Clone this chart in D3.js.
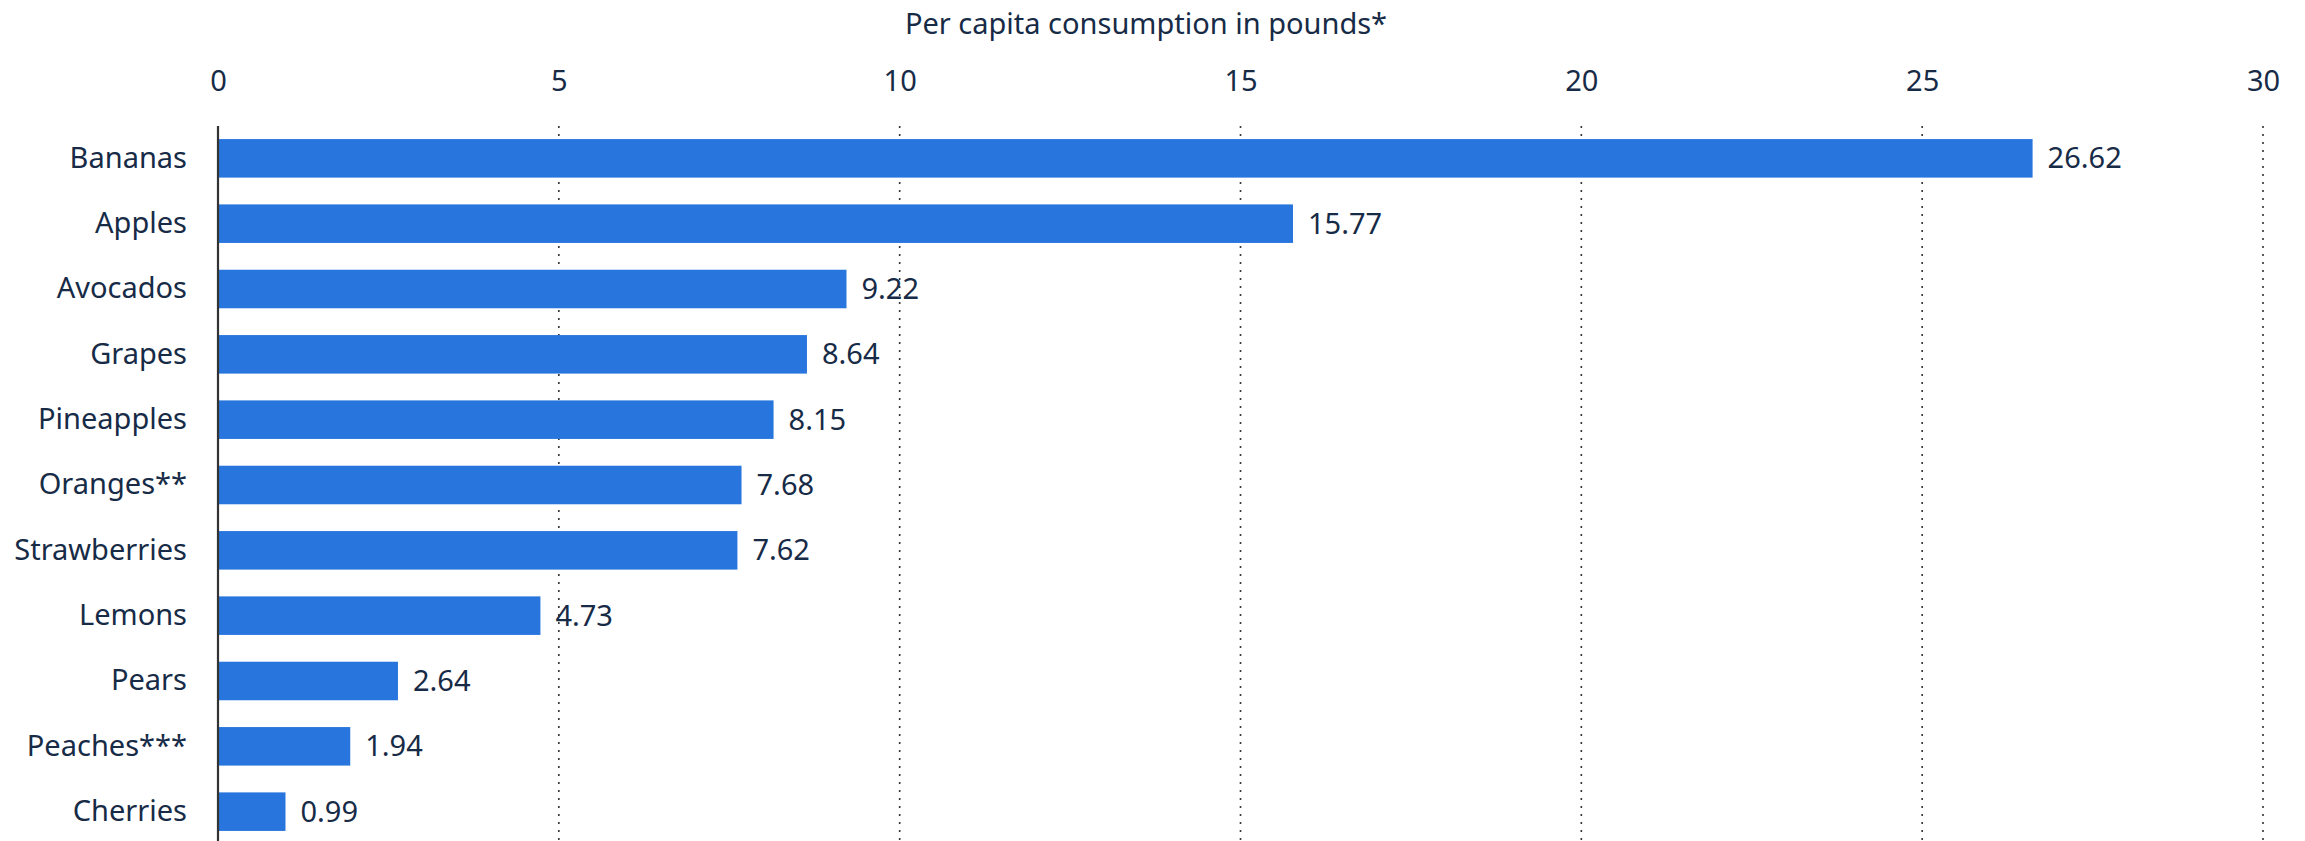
<!DOCTYPE html>
<html>
<head>
<meta charset="utf-8">
<script src="https://cdn.jsdelivr.net/npm/d3@7"></script>
<style>
  html, body { margin: 0; padding: 0; background: #fff; }
  svg { display: block; }
  text { font-family: "Noto Sans", "Open Sans", sans-serif; fill: #172b47; }
</style>
</head>
<body>
<svg id="chart" width="2305" height="841"></svg>
<script>
// Per capita fruit consumption (pounds)
const fruits = ["Bananas", "Apples", "Avocados", "Grapes", "Pineapples", "Oranges**",
                "Strawberries", "Lemons", "Pears", "Peaches***", "Cherries"];
const pounds = [26.62, 15.77, 9.22, 8.64, 8.15, 7.68, 7.62, 4.73, 2.64, 1.94, 0.99];
const xTicks = [0, 5, 10, 15, 20, 25, 30];
const axisTitle = "Per capita consumption in pounds*";

const rows = fruits.map((name, i) => ({ name, value: pounds[i] }));

const W = 2305, H = 841;
const plotLeft = 218, plotRight = 2263, plotTop = 126, plotBottom = 844;
const fontSize = 29;

const svg = d3.select("#chart");

const x = d3.scaleLinear().domain([0, 30]).range([plotLeft, plotRight]);
const y = d3.scaleBand().domain(fruits).range([plotTop, plotBottom])
  .paddingInner(0.41).paddingOuter(0.2);

// dotted vertical gridlines
svg.append("g")
  .selectAll("line")
  .data(xTicks.filter(t => t > 0))
  .join("line")
  .attr("x1", d => x(d)).attr("x2", d => x(d))
  .attr("y1", plotTop).attr("y2", H)
  .attr("stroke", "#333")
  .attr("stroke-width", 1.6)
  .attr("stroke-dasharray", "2 6");

// bars
svg.append("g")
  .selectAll("rect")
  .data(rows)
  .join("rect")
  .attr("x", x(0))
  .attr("y", d => y(d.name))
  .attr("width", d => x(d.value) - x(0))
  .attr("height", y.bandwidth())
  .attr("fill", "#2876dd");

// value labels
svg.append("g")
  .selectAll("text")
  .data(rows)
  .join("text")
  .attr("x", d => x(d.value) + 15)
  .attr("y", d => y(d.name) + y.bandwidth() / 2)
  .attr("dy", "0.35em")
  .attr("font-size", fontSize)
  .text(d => d.value.toFixed(2));

// category axis
const yAxis = svg.append("g")
  .attr("transform", `translate(${plotLeft},0)`)
  .call(d3.axisLeft(y).tickSize(0).tickPadding(31));
yAxis.select(".domain").remove();
yAxis.selectAll("text")
  .attr("font-size", fontSize)
  .attr("fill", "#172b47")
  .style("font-family", "'Noto Sans', 'Open Sans', sans-serif");

svg.append("line")
  .attr("x1", plotLeft).attr("x2", plotLeft)
  .attr("y1", plotTop).attr("y2", H)
  .attr("stroke", "#333")
  .attr("stroke-width", 2.2);

// value axis on top
const xAxis = svg.append("g")
  .attr("transform", `translate(0,${plotTop})`)
  .call(d3.axisTop(x).tickValues(xTicks).tickSize(0).tickPadding(35));
xAxis.select(".domain").remove();
xAxis.selectAll("text")
  .attr("font-size", fontSize)
  .attr("fill", "#172b47")
  .style("font-family", "'Noto Sans', 'Open Sans', sans-serif");

// axis title, centred on the page
svg.append("text")
  .attr("x", 1146)
  .attr("y", 24)
  .attr("dy", "0.35em")
  .attr("text-anchor", "middle")
  .attr("font-size", 29)
  .text(axisTitle);
</script>
</body>
</html>
